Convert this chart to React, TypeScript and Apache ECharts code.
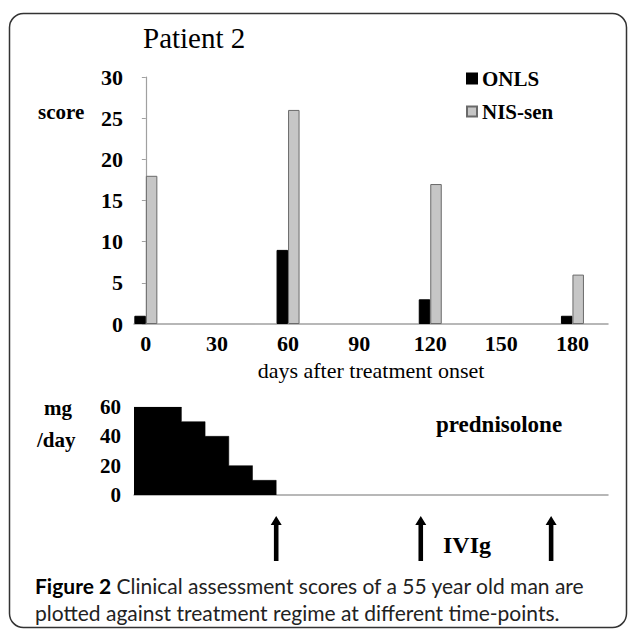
import React, { useEffect, useRef } from 'react';
import * as echarts from 'echarts';

// ---- data ----
const days = [0, 60, 120, 180];
const onls = [1, 9, 3, 1];
const nisSen = [18, 26, 17, 6];
const dayTicks = [0, 30, 60, 90, 120, 150, 180];
const predDays = [-5, 15, 25, 35, 45, 55];
const predDose = [60, 50, 40, 20, 10, 0];
const ivigDays = [55, 116, 171];

const SERIF = '"Liberation Serif", "Times New Roman", serif';
const SANS = 'Lato, "Open Sans", sans-serif';

export default function App() {
  const ref = useRef<HTMLDivElement>(null);

  useEffect(() => {
    if (!ref.current) return;
    const chart = echarts.init(ref.current, null, { renderer: 'svg' });
    const axisGray = '#a0a0a0';
    const xMin = -5;
    const xMax = 195;

    chart.setOption({
      animation: false,
      backgroundColor: '#ffffff',
      legend: {
        data: ['ONLS', 'NIS-sen'],
        orient: 'vertical',
        left: 466,
        top: 68,
        padding: 0,
        itemWidth: 10,
        itemHeight: 10,
        itemGap: 12,
        icon: 'rect',
        textStyle: { fontFamily: SERIF, fontWeight: 'bold', fontSize: 21, color: '#000', lineHeight: 21 },
      },
      grid: [
        { left: 134, top: 77, width: 474, height: 247 },
        { left: 134, top: 407, width: 474, height: 88 },
        { left: 134, top: 516, width: 474, height: 45 },
      ],
      xAxis: [
        {
          gridIndex: 0,
          type: 'value',
          min: xMin,
          max: xMax,
          name: 'days after treatment onset',
          nameLocation: 'middle',
          nameGap: 35,
          nameTextStyle: { fontFamily: SERIF, fontSize: 22, color: '#000' },
          axisLine: { show: true, lineStyle: { color: axisGray, width: 1.5 } },
          axisTick: { show: false },
          splitLine: { show: false },
          axisLabel: {
            customValues: dayTicks,
            fontFamily: SERIF,
            fontWeight: 'bold',
            fontSize: 22,
            color: '#000',
            margin: 8,
          },
        },
        {
          gridIndex: 1,
          type: 'value',
          min: xMin,
          max: xMax,
          axisLine: { show: true, lineStyle: { color: axisGray, width: 1.5 } },
          axisTick: { show: false },
          splitLine: { show: false },
          axisLabel: { show: false },
        },
        { gridIndex: 2, type: 'value', min: xMin, max: xMax, show: false },
      ],
      yAxis: [
        {
          gridIndex: 0,
          type: 'value',
          min: 0,
          max: 30,
          interval: 5,
          axisLine: { show: true, lineStyle: { color: axisGray, width: 1.2 } },
          axisTick: { show: true, length: 4, lineStyle: { color: axisGray } },
          splitLine: { show: false },
          axisLabel: { fontFamily: SERIF, fontWeight: 'bold', fontSize: 22, color: '#000', margin: 11 },
        },
        {
          gridIndex: 1,
          type: 'value',
          min: 0,
          max: 60,
          interval: 20,
          axisLine: { show: false },
          axisTick: { show: false },
          splitLine: { show: false },
          axisLabel: { fontFamily: SERIF, fontWeight: 'bold', fontSize: 21, color: '#000', margin: 13 },
        },
        { gridIndex: 2, type: 'value', min: 0, max: 1, show: false },
      ],
      series: [
        {
          name: 'ONLS',
          type: 'bar',
          xAxisIndex: 0,
          yAxisIndex: 0,
          barWidth: 11.5,
          barGap: '0%',
          data: days.map((d, i) => [d, onls[i]]),
          itemStyle: { color: '#000000', borderColor: '#000000', borderWidth: 1 },
        },
        {
          name: 'NIS-sen',
          type: 'bar',
          xAxisIndex: 0,
          yAxisIndex: 0,
          barWidth: 11.5,
          barGap: '0%',
          data: days.map((d, i) => [d, nisSen[i]]),
          itemStyle: { color: '#c6c6c6', borderColor: '#6a6a6a', borderWidth: 1 },
        },
        {
          name: 'prednisolone',
          type: 'line',
          xAxisIndex: 1,
          yAxisIndex: 1,
          step: 'end',
          symbol: 'none',
          data: predDays.map((d, i) => [d, predDose[i]]),
          lineStyle: { color: '#000', width: 0.5 },
          areaStyle: { color: '#000', opacity: 1 },
        },
        {
          name: 'IVIg',
          type: 'scatter',
          xAxisIndex: 2,
          yAxisIndex: 2,
          symbol: 'path://M6,0 L12,9 L8.5,9 L8.5,45 L3.5,45 L3.5,9 L0,9 Z',
          symbolSize: [11, 45],
          itemStyle: { color: '#000', opacity: 1 },
          data: ivigDays.map((d) => [d, 0.5]),
        },
      ],
      graphic: [
        {
          type: 'rect',
          silent: true,
          shape: { x: 9.5, y: 13.5, width: 617, height: 614, r: 14 },
          style: { fill: 'none', stroke: '#333', lineWidth: 1.5 },
        },
        {
          type: 'text',
          style: { text: 'Patient 2', x: 143, y: 38, font: `normal 29px ${SERIF}`, fill: '#000', textVerticalAlign: 'middle' },
        },
        {
          type: 'text',
          style: { text: 'score', x: 38, y: 112, font: `bold 21px ${SERIF}`, fill: '#000', textVerticalAlign: 'middle' },
        },
        {
          type: 'text',
          style: { text: 'mg', x: 44, y: 408, font: `bold 21px ${SERIF}`, fill: '#000', textVerticalAlign: 'middle' },
        },
        {
          type: 'text',
          style: { text: '/day', x: 37, y: 440, font: `bold 21px ${SERIF}`, fill: '#000', textVerticalAlign: 'middle' },
        },
        {
          type: 'text',
          style: { text: 'prednisolone', x: 436, y: 424, font: `bold 23px ${SERIF}`, fill: '#000', textVerticalAlign: 'middle' },
        },
        {
          type: 'text',
          style: { text: 'IVIg', x: 443, y: 545, font: `bold 24px ${SERIF}`, fill: '#000', textVerticalAlign: 'middle' },
        },
        {
          type: 'text',
          style: {
            text: '{b|Figure 2} Clinical assessment scores of a 55 year old man are',
            x: 35,
            y: 585,
            font: `normal 21px ${SANS}`,
            fill: '#222',
            textVerticalAlign: 'middle',
            rich: { b: { fontWeight: 'bold', fontFamily: SANS, fontSize: 21, fill: '#000' } },
          },
        },
        {
          type: 'text',
          style: {
            text: 'plotted against treatment regime at different time-points.',
            x: 35,
            y: 612,
            font: `normal 21px ${SANS}`,
            fill: '#222',
            textVerticalAlign: 'middle',
          },
        },
      ],
    });

    return () => {
      chart.dispose();
    };
  }, []);

  return (
    <div
      ref={ref}
      style={{ position: 'fixed', left: 0, top: 0, width: 630, height: 630, background: '#fff' }}
    />
  );
}
